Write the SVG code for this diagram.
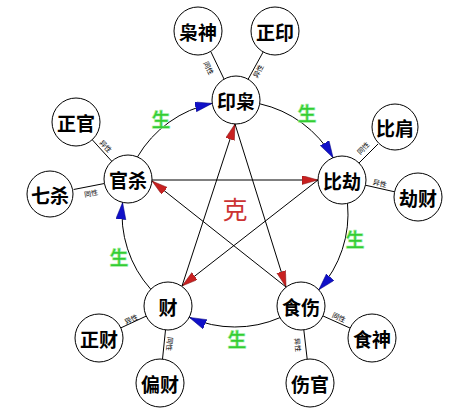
<svg xmlns="http://www.w3.org/2000/svg" width="466" height="412" viewBox="0 0 466 412">
<defs>
<marker id="blue" markerUnits="userSpaceOnUse" markerWidth="18" markerHeight="11" refX="17" refY="5" orient="auto">
<path d="M0,0 L17,5 L0,10 z" fill="#1010c8" stroke="#000080" stroke-width="0.5"/>
</marker>
<marker id="red" markerUnits="userSpaceOnUse" markerWidth="17" markerHeight="10" refX="16" refY="4.5" orient="auto">
<path d="M0,0 L16,4.5 L0,9 z" fill="#c82020" stroke="#801010" stroke-width="0.5"/>
</marker>
</defs>
<style>
.n circle{fill:#fff;stroke:#000;stroke-width:1}
.n text{font-family:"Noto Sans CJK SC","Noto Sans CJK JP",sans-serif;font-weight:bold;font-size:19px;text-anchor:middle;dominant-baseline:central;fill:#000}
.c line,.c path{stroke:#000;stroke-width:1;fill:none}
.s{font-family:"Noto Sans CJK SC",sans-serif;font-size:7px;text-anchor:middle;dominant-baseline:central;fill:#000}
.g{font-family:"Noto Sans CJK SC",sans-serif;font-size:19px;font-weight:bold;text-anchor:middle;dominant-baseline:central;fill:#3c3;stroke:#9e9;stroke-width:0.6}
.k{font-family:"Noto Sans CJK SC",sans-serif;font-size:25px;text-anchor:middle;dominant-baseline:central;fill:#c33}
</style>
<rect width="466" height="412" fill="#fff"/>
<g class="c" id="connectors">
<path d="M137.4,157 A113,113 0 0,1 212.1,103.4" marker-end="url(#blue)"/>
<path d="M259.8,103.8 A113,113 0 0,1 333.1,157.8" marker-end="url(#blue)"/>
<path d="M347.5,203.4 A113,113 0 0,1 318.8,289.8" marker-end="url(#blue)"/>
<path d="M280.1,317.6 A113,113 0 0,1 189.4,317.4" marker-end="url(#blue)"/>
<path d="M150.8,289.3 A113,113 0 0,1 122.6,202.4" marker-end="url(#blue)"/>
<line x1="152" y1="180" x2="318" y2="180" marker-end="url(#red)"/>
<line x1="318" y1="180" x2="182" y2="286" marker-end="url(#red)"/>
<line x1="182" y1="286" x2="235" y2="124" marker-end="url(#red)"/>
<line x1="235" y1="124" x2="286" y2="287" marker-end="url(#red)"/>
<line x1="286" y1="287" x2="152" y2="181" marker-end="url(#red)"/>
<line x1="211" y1="52" x2="224" y2="79"/>
<line x1="263.2" y1="51.9" x2="248.2" y2="79.1"/>
<line x1="92.2" y1="139.7" x2="111.8" y2="161.3"/>
<line x1="73.6" y1="189.5" x2="104.4" y2="183.5"/>
<line x1="378" y1="144" x2="359" y2="163"/>
<line x1="394.6" y1="191.8" x2="365.4" y2="185.2"/>
<line x1="120.8" y1="327.9" x2="146.2" y2="316.1"/>
<line x1="162.5" y1="359.1" x2="165.5" y2="329.9"/>
<line x1="350.1" y1="328.1" x2="322.9" y2="315.9"/>
<line x1="307.2" y1="359.2" x2="303.8" y2="329.8"/>
<text class="s" transform="translate(209,68) rotate(64)">同性</text>
<text class="s" transform="translate(258,71) rotate(-61)">异性</text>
<text class="s" transform="translate(106,146) rotate(47)">异性</text>
<text class="s" transform="translate(91,193) rotate(-11)">同性</text>
<text class="s" transform="translate(363,148) rotate(-45)">同性</text>
<text class="s" transform="translate(380,183) rotate(13)">异性</text>
<text class="s" transform="translate(131,319) rotate(-25)">异性</text>
<text class="s" transform="translate(170,344) rotate(96)">同性</text>
<text class="s" transform="translate(339,317) rotate(24)">同性</text>
<text class="s" transform="translate(298,345) rotate(84)">异性</text>
</g>
<text class="g" x="161" y="118">生</text>
<text class="g" x="307" y="112">生</text>
<text class="g" x="355" y="238">生</text>
<text class="g" x="237" y="338">生</text>
<text class="g" x="119" y="256">生</text>
<text class="k" x="235" y="208">克</text>
<g class="n" id="yinxiao"><circle cx="236" cy="100" r="24"/><text x="236" y="100">印枭</text></g>
<g class="n" id="bijie"><circle cx="342" cy="180" r="24"/><text x="342" y="180">比劫</text></g>
<g class="n" id="shishang"><circle cx="301" cy="306" r="24"/><text x="301" y="306">食伤</text></g>
<g class="n" id="cai"><circle cx="168" cy="306" r="24"/><text x="168" y="306">财</text></g>
<g class="n" id="guansha"><circle cx="128" cy="179" r="24"/><text x="128" y="179">官杀</text></g>
<g class="n" id="xiaoshen"><circle cx="198" cy="31" r="24"/><text x="198" y="31">枭神</text></g>
<g class="n" id="zhengyin"><circle cx="275" cy="31" r="24"/><text x="275" y="31">正印</text></g>
<g class="n" id="zhengguan"><circle cx="76" cy="122" r="24"/><text x="76" y="122">正官</text></g>
<g class="n" id="qisha"><circle cx="50" cy="194" r="23"/><text x="50" y="194">七杀</text></g>
<g class="n" id="bijian"><circle cx="395" cy="127" r="23"/><text x="395" y="127">比肩</text></g>
<g class="n" id="jiecai"><circle cx="418" cy="197" r="24"/><text x="418" y="197">劫财</text></g>
<g class="n" id="zhengcai"><circle cx="99" cy="338" r="24"/><text x="99" y="338">正财</text></g>
<g class="n" id="piancai"><circle cx="160" cy="383" r="24"/><text x="160" y="383">偏财</text></g>
<g class="n" id="shishen"><circle cx="372" cy="338" r="24"/><text x="372" y="338">食神</text></g>
<g class="n" id="shangguan"><circle cx="310" cy="383" r="24"/><text x="310" y="383">伤官</text></g>
</svg>
